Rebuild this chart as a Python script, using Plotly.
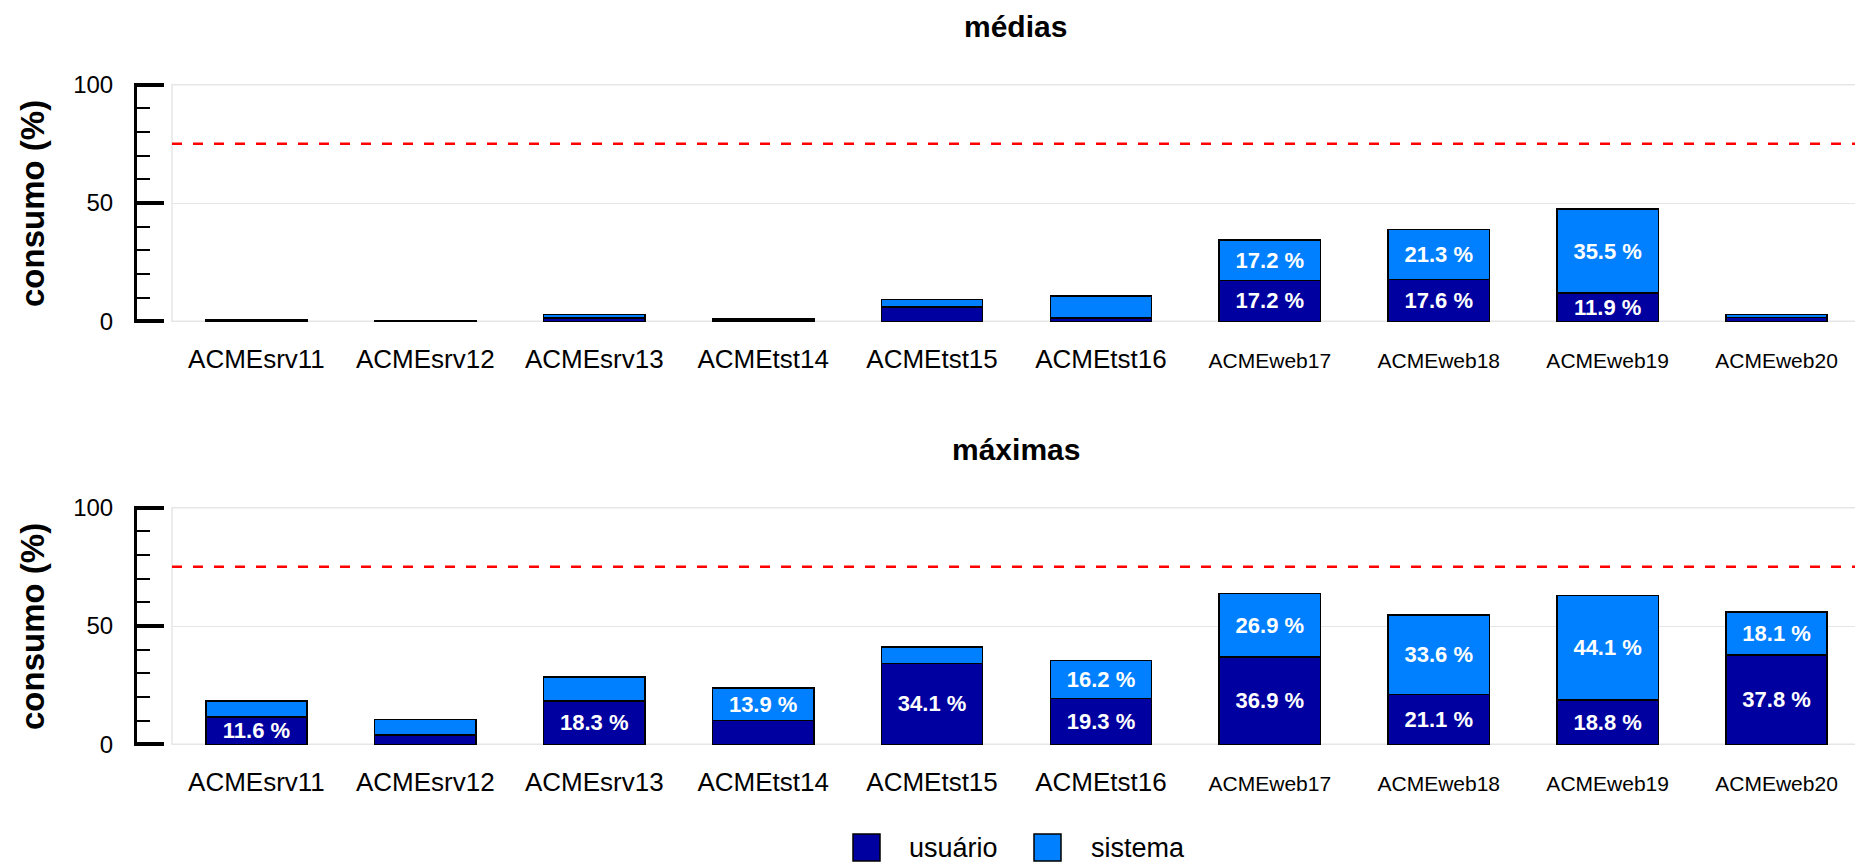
import plotly.graph_objects as go
from plotly.subplots import make_subplots

# servidores
servidores = ['ACMEsrv11', 'ACMEsrv12', 'ACMEsrv13', 'ACMEtst14', 'ACMEtst15',
              'ACMEtst16', 'ACMEweb17', 'ACMEweb18', 'ACMEweb19', 'ACMEweb20']

# consumo médio (%)
medias_usuario = [0.5, 0.3, 1.4, 0.6, 6.0, 1.4, 17.2, 17.6, 11.9, 1.7]
medias_sistema = [0.3, 0.1, 1.5, 0.4, 3.2, 9.4, 17.2, 21.3, 35.5, 1.2]

# consumo máximo (%)
maximas_usuario = [11.6, 3.9, 18.3, 10.0, 34.1, 19.3, 36.9, 21.1, 18.8, 37.8]
maximas_sistema = [6.8, 6.5, 10.2, 13.9, 7.1, 16.2, 26.9, 33.6, 44.1, 18.1]

limite = 75
cor_usuario = '#0000A0'
cor_sistema = '#0080FF'
fonte = 'Liberation Sans, Arial, sans-serif'

# a página html tem 8px de margem no body
W, H = 1855, 856
ml, mr, mt, mb = 127, 2, 75, 118
pw = W - ml - mr
ph = H - mt - mb


def px_x(x):
    # x em pixels da tela -> fração do papel
    return (x - 8 - ml) / pw


def px_y(y):
    return (H - mb - (y - 8)) / ph


def rotulo(v):
    # só aparecem os rótulos das barras maiores
    return f'{v:.1f} %' if v > 11 else ''


# nomes web aparecem com fonte menor
ticktext = [f'<span style="font-size:21px">{s}</span>' if 'web' in s else s for s in servidores]

fig = make_subplots(rows=2, cols=1)

for row, usu, sis in [(1, medias_usuario, medias_sistema), (2, maximas_usuario, maximas_sistema)]:
    for nome, vals, cor in [('usuário', usu, cor_usuario), ('sistema', sis, cor_sistema)]:
        fig.add_trace(go.Bar(x=servidores, y=vals, name=nome, marker_color=cor,
                             marker_line=dict(color='black', width=1.5),
                             text=[rotulo(v) for v in vals], textposition='inside',
                             insidetextanchor='middle', constraintext='none',
                             textfont=dict(color='white', size=22, family=fonte, weight='bold'),
                             showlegend=False), row=row, col=1)

dom_x = [px_x(172), 1]
for i, dom_y in [(1, [px_y(323), 1]), (2, [0, px_y(506)])]:
    sx = '' if i == 1 else str(i)
    fig.update_layout({
        f'xaxis{sx}': dict(domain=dom_x, tickmode='array', tickvals=servidores, ticktext=ticktext,
                           tickfont=dict(size=26, family=fonte, color='black'),
                           showgrid=False, ticks='', ticklabelstandoff=18),
        f'yaxis{sx}': dict(domain=dom_y, anchor='free', position=0, range=[-0.7, 100.7],
                           tickvals=[0, 50, 100], ticks='inside', ticklen=27, tickwidth=4,
                           tickcolor='black', showline=True, linecolor='black', linewidth=3,
                           tickfont=dict(size=24, family=fonte, color='black'),
                           ticklabelstandoff=16, showgrid=True, gridcolor='#e6e6e6',
                           zeroline=False,
                           minor=dict(dtick=10, ticks='inside', ticklen=13, tickwidth=2,
                                      tickcolor='black', showgrid=False)),
    })
    # moldura cinza da área do gráfico
    fig.add_shape(type='rect', xref=f'x{sx} domain', yref=f'y{sx}', x0=0, x1=1, y0=0, y1=100,
                  line=dict(color='#e6e6e6', width=1.5), layer='below')
    # linha de limite
    fig.add_shape(type='line', xref=f'x{sx} domain', yref=f'y{sx}', x0=0, x1=1, y0=limite, y1=limite,
                  line=dict(color='red', width=2.5, dash='10px,11px'))

anotacoes = [
    dict(text='<b>médias</b>', x=px_x(1016), y=px_y(26), font=dict(size=30)),
    dict(text='<b>máximas</b>', x=px_x(1016), y=px_y(449), font=dict(size=30)),
    dict(text='<b>consumo (%)</b>', x=px_x(32), y=px_y(204), font=dict(size=33), textangle=-90),
    dict(text='<b>consumo (%)</b>', x=px_x(32), y=px_y(627), font=dict(size=33), textangle=-90),
    dict(text='usuário', x=px_x(907), y=px_y(848), font=dict(size=27), xanchor='left'),
    dict(text='sistema', x=px_x(1089), y=px_y(848), font=dict(size=27), xanchor='left'),
]
for a in anotacoes:
    a.setdefault('xanchor', 'center')
    a['font'].update(family=fonte, color='black')
    fig.add_annotation(xref='paper', yref='paper', yanchor='middle', showarrow=False, **a)

# legenda desenhada à mão (quadrados grandes)
for x0, cor in [(853, cor_usuario), (1034, cor_sistema)]:
    fig.add_shape(type='rect', xref='paper', yref='paper', x0=px_x(x0), x1=px_x(x0 + 27),
                  y0=px_y(861), y1=px_y(834), fillcolor=cor, line=dict(color='black', width=1.5))

fig.update_layout(barmode='stack', bargap=0.4, width=W, height=H,
                  margin=dict(l=ml, r=mr, t=mt, b=mb),
                  plot_bgcolor='white', paper_bgcolor='white',
                  font=dict(family=fonte, color='black'))

fig.write_html('out.html')
